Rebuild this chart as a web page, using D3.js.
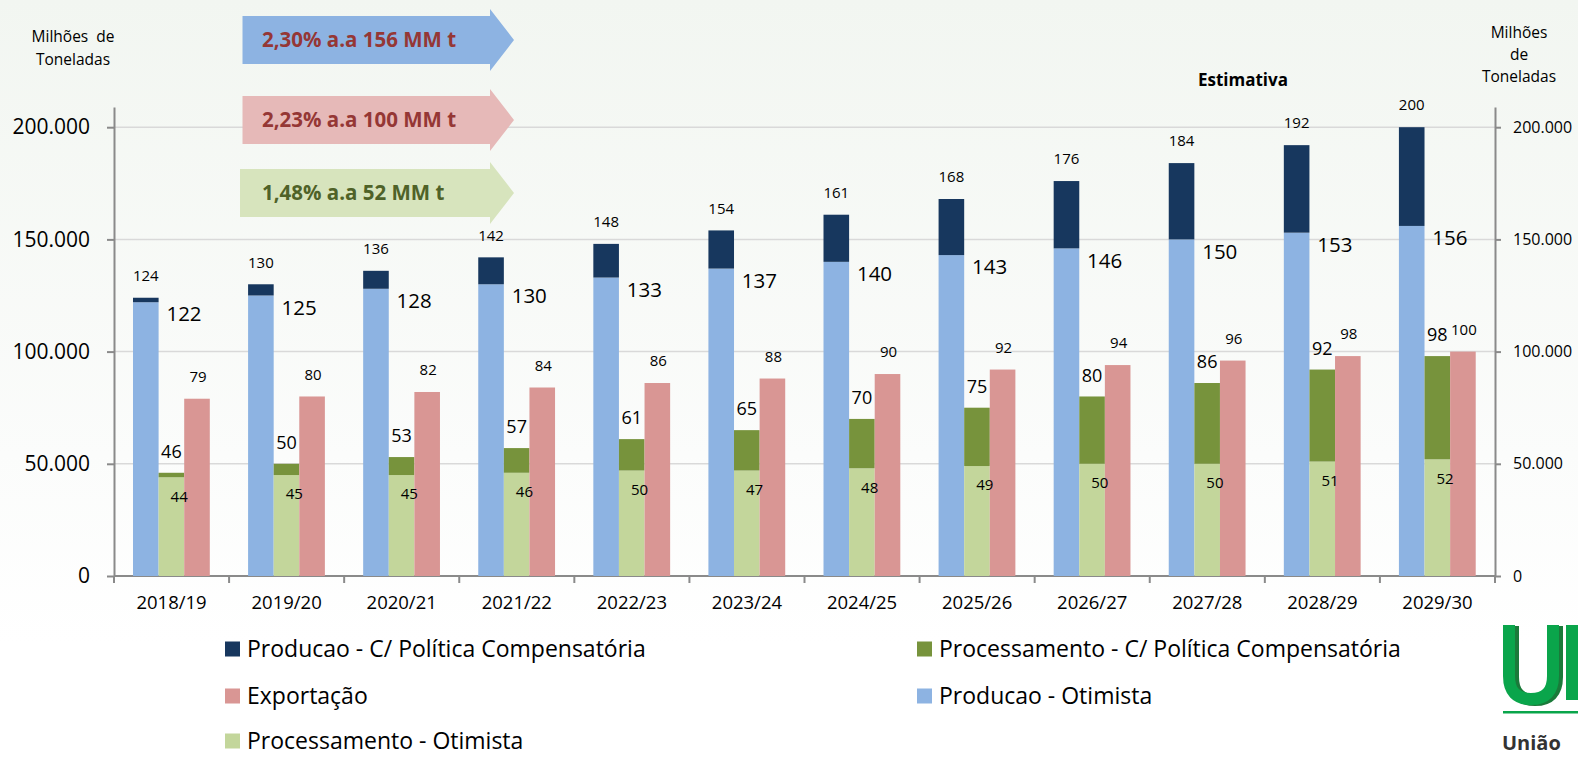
<!DOCTYPE html>
<html>
<head>
<meta charset="utf-8">
<script src="https://cdn.jsdelivr.net/npm/d3@7"></script>
<style>
  body { margin: 0; background: #fff; }
  svg { display: block; font-family: "Open Sans", sans-serif; }
</style>
</head>
<body>
<svg id="chart" width="1578" height="757"></svg>
<script>
// Safras e séries (milhões de toneladas)
const safras = ["2018/19", "2019/20", "2020/21", "2021/22", "2022/23", "2023/24",
  "2024/25", "2025/26", "2026/27", "2027/28", "2028/29", "2029/30"];

const producaoComp = [124, 130, 136, 142, 148, 154, 161, 168, 176, 184, 192, 200];
const producaoOtimista = [122, 125, 128, 130, 133, 137, 140, 143, 146, 150, 153, 156];
const processamentoComp = [46, 50, 53, 57, 61, 65, 70, 75, 80, 86, 92, 98];
const processamentoOtimista = [44, 45, 45, 46, 47, 47, 48, 49, 50, 50, 51, 52];
const processamentoOtimistaLabels = ["44", "45", "45", "46", "50", "47", "48", "49", "50", "50", "51", "52"];
const exportacao = [79, 80, 82, 84, 86, 88, 90, 92, 94, 96, 98, 100];

const yTicks = [0, 50000, 100000, 150000, 200000];

const arrowTexts = ["2,30% a.a 156 MM t", "2,23% a.a 100 MM t", "1,48% a.a 52 MM t"];

const legendItems = [
  "Producao - C/ Política Compensatória",
  "Processamento - C/ Política Compensatória",
  "Exportação",
  "Producao - Otimista",
  "Processamento - Otimista",
];

// Cores
const colors = {
  prodComp: "#17375e",
  prodOtim: "#8db3e2",
  procComp: "#77933c",
  procOtim: "#c3d69b",
  export: "#d99694",
};
const legendColors = [colors.prodComp, colors.procComp, colors.export, colors.prodOtim, colors.procOtim];

const W = 1578, H = 757;
const svg = d3.select("#chart");

// fundo com leve gradiente
const defs = svg.append("defs");
const grad = defs.append("linearGradient").attr("id", "bg")
  .attr("x1", 0).attr("y1", 0).attr("x2", 0).attr("y2", 1);
grad.append("stop").attr("offset", "0%").attr("stop-color", "#f2f6f1");
grad.append("stop").attr("offset", "60%").attr("stop-color", "#fbfcfb");
grad.append("stop").attr("offset", "85%").attr("stop-color", "#ffffff");
svg.append("rect").attr("width", W).attr("height", H).attr("fill", "url(#bg)");

// Escalas
const x = d3.scaleBand().domain(safras).range([114, 1495]).padding(0);
const y = d3.scaleLinear().domain([0, 209000]).range([576, 107]);
const barOff = 19, barW = 25.6;
const fmt = (d) => d3.format(",")(d).replace(/,/g, ".");
const v = (d) => d * 1000;

// Grade
svg.append("g")
  .selectAll("line")
  .data(yTicks.filter((d) => d > 0))
  .join("line")
  .attr("x1", 114).attr("x2", 1495)
  .attr("y1", (d) => y(d)).attr("y2", (d) => y(d))
  .attr("stroke", "#d9d9d9")
  .attr("stroke-width", 1.5);

// Eixos
const axisColor = "#8a8a8a";
const gLeft = svg.append("g").attr("transform", "translate(114,0)")
  .call(d3.axisLeft(y).tickValues(yTicks).tickSize(7).tickSizeOuter(0).tickPadding(17).tickFormat(fmt));
gLeft.selectAll("text").attr("font-size", 21).attr("fill", "#000").attr("font-family", "Open Sans");

const gRight = svg.append("g").attr("transform", "translate(1495,0)")
  .call(d3.axisRight(y).tickValues(yTicks).tickSize(6).tickSizeOuter(0).tickPadding(12).tickFormat(fmt));
gRight.selectAll("text").attr("font-size", 16).attr("fill", "#000").attr("font-family", "Open Sans");

[gLeft, gRight].forEach((g) => {
  g.select(".domain").attr("stroke", axisColor).attr("stroke-width", 2);
  g.selectAll(".tick line").attr("stroke", axisColor).attr("stroke-width", 2);
});

// Eixo X (marcas entre categorias)
const gX = svg.append("g");
gX.append("line")
  .attr("x1", 114).attr("x2", 1495).attr("y1", y(0)).attr("y2", y(0))
  .attr("stroke", axisColor).attr("stroke-width", 2);
gX.selectAll("line.tk")
  .data(d3.range(safras.length + 1))
  .join("line")
  .attr("class", "tk")
  .attr("x1", (i) => 114 + i * x.step()).attr("x2", (i) => 114 + i * x.step())
  .attr("y1", y(0)).attr("y2", y(0) + 7)
  .attr("stroke", axisColor).attr("stroke-width", 2);
gX.selectAll("text")
  .data(safras)
  .join("text")
  .attr("x", (d) => x(d) + x.bandwidth() / 2)
  .attr("y", 603)
  .attr("dy", "0.35em")
  .attr("text-anchor", "middle")
  .attr("font-size", 18.5)
  .text((d) => d);

// Barras
const bars = svg.append("g");
const idx = d3.range(safras.length);

// Produção otimista + acréscimo c/ política
bars.selectAll("rect.po").data(idx).join("rect")
  .attr("x", (i) => x(safras[i]) + barOff)
  .attr("y", (i) => y(v(producaoOtimista[i])))
  .attr("width", barW)
  .attr("height", (i) => y(0) - y(v(producaoOtimista[i])))
  .attr("fill", colors.prodOtim);
bars.selectAll("rect.pc").data(idx).join("rect")
  .attr("x", (i) => x(safras[i]) + barOff)
  .attr("y", (i) => y(v(producaoComp[i])))
  .attr("width", barW)
  .attr("height", (i) => y(v(producaoOtimista[i])) - y(v(producaoComp[i])))
  .attr("fill", colors.prodComp);

// Processamento otimista + acréscimo c/ política
bars.selectAll("rect.qo").data(idx).join("rect")
  .attr("x", (i) => x(safras[i]) + barOff + barW)
  .attr("y", (i) => y(v(processamentoOtimista[i])))
  .attr("width", barW)
  .attr("height", (i) => y(0) - y(v(processamentoOtimista[i])))
  .attr("fill", colors.procOtim);
bars.selectAll("rect.qc").data(idx).join("rect")
  .attr("x", (i) => x(safras[i]) + barOff + barW)
  .attr("y", (i) => y(v(processamentoComp[i])))
  .attr("width", barW)
  .attr("height", (i) => y(v(processamentoOtimista[i])) - y(v(processamentoComp[i])))
  .attr("fill", colors.procComp);

// Exportação
bars.selectAll("rect.ex").data(idx).join("rect")
  .attr("x", (i) => x(safras[i]) + barOff + 2 * barW)
  .attr("y", (i) => y(v(exportacao[i])))
  .attr("width", barW)
  .attr("height", (i) => y(0) - y(v(exportacao[i])))
  .attr("fill", colors.export);

// Rótulos
const labels = svg.append("g").attr("fill", "#000");
function addLabels(text, fx, fy, size) {
  labels.append("g").selectAll("text").data(idx).join("text")
    .attr("x", (i) => fx(i))
    .attr("y", (i) => fy(i))
    .attr("dy", "0.35em")
    .attr("text-anchor", "middle")
    .attr("font-size", size)
    .text((i) => text(i));
}
addLabels((i) => producaoComp[i],
  (i) => x(safras[i]) + barOff + barW / 2, (i) => y(v(producaoComp[i])) - 22, 15);
addLabels((i) => producaoOtimista[i],
  (i) => x(safras[i]) + 70, (i) => y(v(producaoOtimista[i])) + 12, 20.5);
addLabels((i) => processamentoComp[i],
  (i) => x(safras[i]) + barOff + barW * 1.5, (i) => y(v(processamentoComp[i])) - 21, 18);
addLabels((i) => processamentoOtimistaLabels[i],
  (i) => x(safras[i]) + barOff + barW * 2 - 5, (i) => y(v(processamentoOtimista[i])) + 19, 15);
addLabels((i) => exportacao[i],
  (i) => x(safras[i]) + barOff + barW * 2.5 + 1, (i) => y(v(exportacao[i])) - 22, 15);

// Setas com taxas de crescimento
const arrowStyles = [
  { fill: "#8db3e2", color: "#953735", cy: 40 },
  { fill: "#e6b9b8", color: "#953735", cy: 120 },
  { fill: "#d7e4bd", color: "#4f6228", cy: 193 },
];
arrowTexts.forEach((t, i) => {
  const s = arrowStyles[i];
  const x0 = i === 2 ? 240 : 242.5, xh = 490, xt = 514;
  const pts = [[x0, s.cy - 24], [xh, s.cy - 24], [xh, s.cy - 31], [xt, s.cy],
    [xh, s.cy + 31], [xh, s.cy + 24], [x0, s.cy + 24]];
  svg.append("polygon").attr("points", pts.map((p) => p.join(",")).join(" ")).attr("fill", s.fill);
  svg.append("text")
    .attr("x", 262).attr("y", s.cy).attr("dy", "0.35em")
    .attr("font-size", 20.5).attr("font-weight", "bold").attr("fill", s.color)
    .text(t);
});

// Títulos dos eixos
const leftTitle = svg.append("text").attr("font-size", 15.5).attr("text-anchor", "middle");
leftTitle.append("tspan").attr("x", 73).attr("y", 42).attr("xml:space", "preserve").text("Milhões  de");
leftTitle.append("tspan").attr("x", 73).attr("y", 65).text("Toneladas");

const rightTitle = svg.append("text").attr("font-size", 15.5).attr("text-anchor", "middle");
["Milhões", "de", "Toneladas"].forEach((t, i) => {
  rightTitle.append("tspan").attr("x", 1519).attr("y", 38 + i * 22).text(t);
});

svg.append("text").attr("x", 1243).attr("y", 80).attr("dy", "0.35em")
  .attr("text-anchor", "middle").attr("font-size", 17).attr("font-weight", "bold")
  .text("Estimativa");

// Legenda
const legend = svg.append("g");
const legCols = [225, 917], legRows = [649, 696, 741];
legendItems.forEach((name, i) => {
  const lx = legCols[i % 2], ly = legRows[Math.floor(i / 2)];
  legend.append("rect").attr("x", lx).attr("y", ly - 7.5).attr("width", 15).attr("height", 15)
    .attr("fill", legendColors[i]);
  legend.append("text").attr("x", lx + 22).attr("y", ly).attr("dy", "0.35em")
    .attr("font-size", 23).text(name);
});

// Logo (recortado na borda)
const logo = svg.append("g");
logo.append("path")
  .attr("d", "M1511,625 V676 Q1511,699 1533,699 Q1555,699 1555,676 V625")
  .attr("fill", "none").attr("stroke", "#1b7a3a").attr("stroke-width", 12).attr("transform", "translate(2,1)");
logo.append("path")
  .attr("d", "M1509,625 V676 Q1509,699 1531,699 Q1553,699 1553,676 V625")
  .attr("fill", "none").attr("stroke", "#0aa54b").attr("stroke-width", 12);
logo.append("rect").attr("x", 1566).attr("y", 625).attr("width", 12).attr("height", 75).attr("fill", "#0aa54b");
logo.append("rect").attr("x", 1503).attr("y", 711).attr("width", 75).attr("height", 2.5).attr("fill", "#0aa54b");
logo.append("text").attr("x", 1502).attr("y", 743).attr("dy", "0.35em")
  .attr("font-size", 20).attr("font-weight", "bold").attr("fill", "#333")
  .text("União");
</script>
</body>
</html>
